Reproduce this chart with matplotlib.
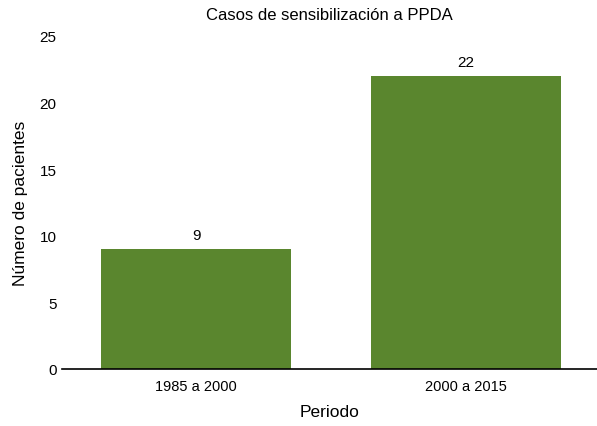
import matplotlib.pyplot as plt
import numpy as np

plt.rcParams['font.family'] = ['Liberation Sans', 'DejaVu Sans']

periodos = ['1985 a 2000', '2000 a 2015']
pacientes = [9, 22]
yticks = [0, 5, 10, 15, 20, 25]

fig = plt.figure(figsize=(5.97, 4.27), dpi=100)
ax = fig.add_axes([0.104, 0.1335, 0.896, 0.78])

x = np.arange(len(periodos))
bars = ax.bar(x, pacientes, width=0.704, color='#5a862e')
for b, v in zip(bars, pacientes):
    ax.text(b.get_x() + b.get_width() / 2, v + 0.5, str(v),
            ha='center', va='bottom', fontsize=11)

ax.set_xlim(-0.496, 1.485)
ax.set_ylim(0, 25)
ax.set_xticks(x)
ax.set_xticklabels(periodos, fontsize=10.5)
ax.set_yticks(yticks)
ax.tick_params(axis='y', length=0, labelsize=11, pad=4)
ax.tick_params(axis='x', length=0, labelsize=10.5, pad=7)
for s in ['top', 'right', 'left']:
    ax.spines[s].set_visible(False)
ax.spines['bottom'].set_linewidth(1.2)

ax.set_title('Casos de sensibilización a PPDA', fontsize=12, pad=12)
ax.set_xlabel('Periodo', fontsize=12.5, labelpad=8)
ax.set_ylabel('Número de pacientes', fontsize=12.5, labelpad=8)

fig.savefig('out.png', dpi=100)
